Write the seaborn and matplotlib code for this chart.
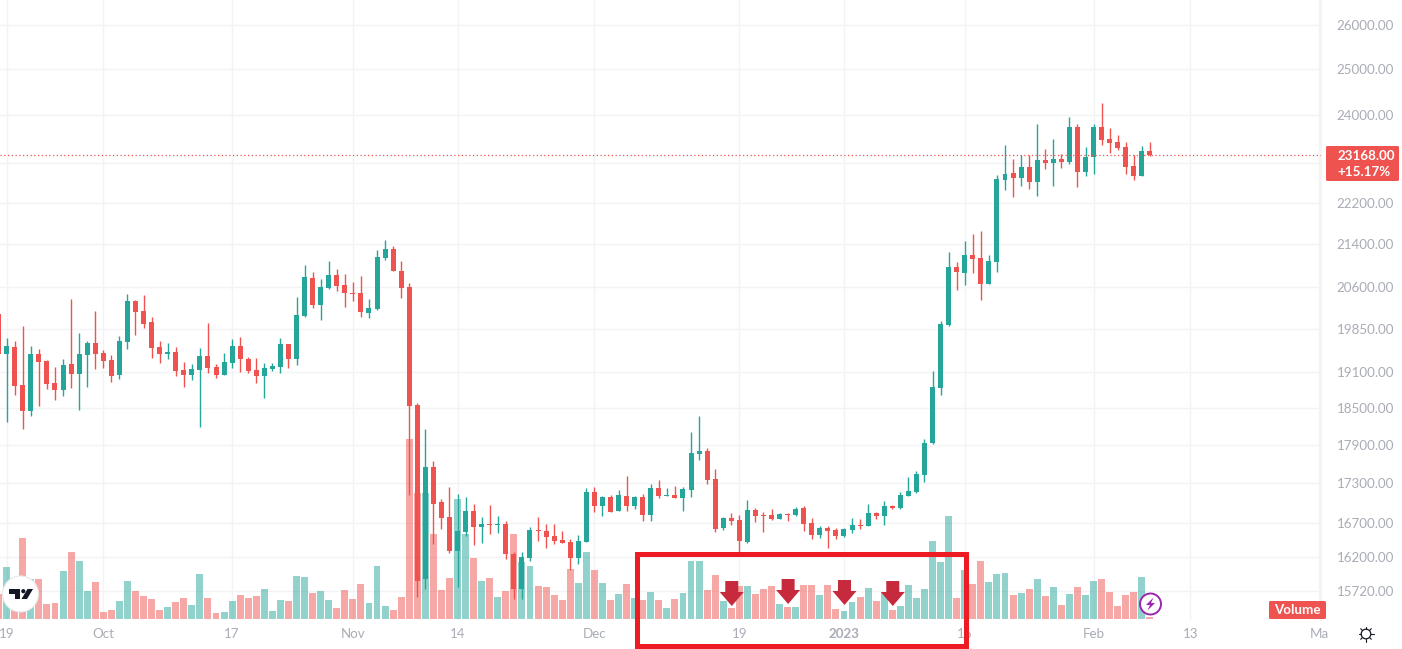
"""
BTCUSD daily candles with volume, TradingView style chart.
"""

import numpy as np
import pandas as pd
import matplotlib
matplotlib.use("Agg")
import matplotlib.pyplot as plt
from matplotlib.patches import Circle, Polygon, Rectangle, FancyBboxPatch
from matplotlib.ticker import NullLocator
import seaborn as sns

# Day numbers count from 19 Sep 2022, so -1 is the candle cut by the left edge
opens = [20111,
    19407, 19528, 18880, 18449, 19407, 19287, 18913, 18796, 19236, 19065, 19390, 19598, 19425, 19304, 19048,
    19615, 20344, 20164, 19967, 19528, 19407, 19442, 19133, 19048, 19133, 19373, 19184, 19048, 19253, 19546,
    19321, 19133, 19032, 19150, 19184, 19581, 19321, 20074, 20764, 20271, 20580, 20819, 20635, 20489, 20489,
    20128, 20199, 21136, 21306, 20893, 20598, 18547, 15889, 17553, 17015, 16790, 16290, 16567, 16879, 16641,
    16686, 16671, 16686, 16246, 15749, 16189, 16597, 16582, 16508, 16450, 16421, 16189, 16421, 17167, 16955,
    17091, 16879, 17106, 16955, 17091, 16820, 17228, 17106, 17121, 17076, 17197, 17757, 17804, 17366, 16626,
    16775, 16745, 16421, 16894, 16820, 16820, 16760, 16834, 16820, 16925, 16700, 16523, 16626, 16597, 16508,
    16597, 16671, 16656, 16849, 16805, 16955, 16925, 17106, 17167, 17428, 17931, 18830, 19914, 20968, 20856,
    21193, 21136, 20653, 21061, 22654, 22795, 22694, 22917, 22613, 23060, 22999, 23080, 23019, 23746, 22815,
    23122, 23746, 23494, 23432, 23328, 22937, 22734, 23245]
highs = [20300,
    19680, 19633, 19896, 19546, 19494, 19304, 19184, 19321, 20380, 19773, 19633, 20164, 19476, 19390, 19720,
    20471, 20362, 20452, 20056, 19633, 19598, 19528, 19270, 19236, 19511, 19950, 19236, 19425, 19668, 19703,
    19356, 19338, 19253, 19253, 19685, 19581, 20416, 21005, 20875, 20745, 21080, 20931, 20838, 20690, 20801,
    20380, 21287, 21477, 21363, 21080, 20672, 18575, 18156, 17647, 17060, 17243, 17136, 17091, 16985, 16790,
    16970, 16805, 16730, 16275, 16275, 16641, 16790, 16686, 16686, 16582, 16465, 16523, 17228, 17243, 17106,
    17121, 17197, 17413, 17106, 17136, 17289, 17351, 17228, 17259, 17243, 18107, 18367, 17852, 17522, 16790,
    16849, 16820, 17045, 16925, 16864, 16909, 16849, 16849, 16940, 16955, 16775, 16656, 16656, 16626, 16626,
    16775, 16760, 16985, 16864, 17030, 16970, 17167, 17397, 17490, 17995, 19116, 19985, 21249, 21061, 21458,
    21592, 21650, 21193, 22755, 23369, 23080, 23163, 23163, 23810, 23287, 23494, 23183, 23958, 23810, 23328,
    23810, 24258, 23725, 23578, 23432, 23163, 23349, 23432]
lows = [19300,
    18274, 18713, 18156, 18372, 18531, 18813, 18630, 18696, 18830, 18465, 18846, 19150, 19167, 18930, 18981,
    19494, 19738, 19861, 19338, 19253, 19321, 19032, 18846, 18964, 18188, 19082, 18998, 19048, 19167, 19099,
    19082, 18913, 18663, 19116, 19082, 19167, 19219, 20056, 20217, 20003, 20562, 20525, 20235, 20344, 20056,
    20038, 20181, 21099, 20893, 20398, 17121, 15642, 15749, 16392, 16612, 16261, 15777, 16508, 16377, 16406,
    16538, 16553, 16174, 15609, 15609, 16146, 16435, 16333, 16392, 16406, 16017, 16103, 16421, 16864, 16805,
    16864, 16879, 16879, 16909, 16730, 16730, 17076, 17106, 17076, 16879, 17091, 17662, 17289, 16567, 16597,
    16671, 16275, 16406, 16715, 16567, 16745, 16760, 16730, 16805, 16582, 16465, 16479, 16333, 16465, 16494,
    16553, 16612, 16656, 16760, 16671, 16909, 16909, 17106, 17152, 17320, 17915, 18713, 19896, 20543, 20635,
    20856, 20362, 20653, 20875, 22453, 22314, 22533, 22473, 22334, 22876, 22533, 22897, 22978, 22513, 22734,
    22775, 23369, 23204, 23266, 22775, 22654, 22734, 23142]
closes = [19410,
    19546, 18869, 18449, 19407, 19270, 18897, 18796, 19219, 19065, 19407, 19598, 19407, 19287, 19032, 19633,
    20344, 20146, 19932, 19511, 19407, 19442, 19116, 19048, 19150, 19373, 19167, 19048, 19270, 19546, 19321,
    19116, 19032, 19167, 19201, 19581, 19321, 20092, 20782, 20271, 20598, 20819, 20617, 20489, 20477, 20146,
    20217, 21155, 21306, 20893, 20580, 18531, 15861, 17553, 16985, 16775, 16290, 16582, 16879, 16641, 16686,
    16671, 16686, 16246, 15749, 16203, 16597, 16582, 16494, 16435, 16406, 16189, 16435, 17167, 16955, 17091,
    16864, 17121, 16955, 17091, 16820, 17228, 17106, 17121, 17076, 17213, 17772, 17804, 17351, 16612, 16775,
    16730, 16435, 16894, 16805, 16805, 16760, 16834, 16820, 16909, 16686, 16523, 16626, 16582, 16508, 16612,
    16671, 16656, 16849, 16805, 16955, 16925, 17121, 17182, 17444, 17931, 18846, 19932, 20968, 20875, 21193,
    21117, 20653, 21080, 22674, 22775, 22694, 22917, 22613, 23060, 22999, 23080, 23019, 23746, 22815, 23122,
    23746, 23474, 23411, 23307, 22917, 22734, 23245, 23168]
volumes = [25,
    52, 30, 81, 40, 40, 15, 16, 48, 67, 58, 28, 37, 7, 9, 18, 38, 28, 23, 20, 9, 12, 17, 21, 14, 45,
    21, 6, 7, 18, 24, 21, 23, 30, 8, 19, 18, 43, 42, 26, 28, 19, 11, 29, 20, 35, 16, 53, 13, 9, 22,
    180, 126, 126, 85, 29, 41, 120, 85, 61, 38, 41, 22, 28, 85, 57, 53, 33, 32, 24, 19, 50, 36, 67, 49, 36,
    19, 25, 35, 21, 19, 27, 19, 11, 20, 26, 58, 58, 29, 44, 18, 11, 33, 33, 25, 30, 33, 15, 12, 12, 34,
    34, 24, 34, 10, 8, 17, 22, 31, 18, 26, 9, 13, 34, 21, 30, 78, 57, 103, 21, 49, 35, 58, 37, 45, 46,
    24, 26, 30, 40, 23, 32, 14, 25, 32, 24, 38, 40, 27, 13, 24, 27, 42, 2]

price_ticks = [26000, 25000, 24000, 23000, 22200, 21400, 20600, 19850, 19100, 18500, 17900, 17300, 16700, 16200, 15720]
date_ticks = [0, 12, 28, 43, 56, 73, 91, 104, 119, 135, 147, 163]
date_labels = ["19", "Oct", "17", "Nov", "14", "Dec", "19", "2023", "16", "Feb", "13", "Ma"]
arrow_days = [90, 97, 104, 110]
change_label = "+15.17%"

UP = "#26a69a"
DOWN = "#ef5350"
GRID = "#f1f3f6"
TEXT = "#a9acb6"
W, H = 1402, 649
PANE_R, PANE_B = 1321, 620

sns.set_theme(style="white")
plt.rcParams["font.family"] = ["Lato", "DejaVu Sans"]

df = pd.DataFrame({"day": np.arange(-1, len(opens) - 1), "open": opens, "high": highs,
                   "low": lows, "close": closes, "volume": volumes})
df["side"] = np.where(df["close"] >= df["open"], "up", "down")
df["color"] = df["side"].map({"up": UP, "down": DOWN})

fig = plt.figure(figsize=(W / 100, H / 100), dpi=100, facecolor="white")
rect = [0, 1 - PANE_B / H, PANE_R / W, PANE_B / H]
xlim = (-0.83, 163.25)

# Price scale and grid at the bottom
ax = fig.add_axes(rect)
ax.set_yscale("log")
ax.set_xlim(xlim)
ax.set_ylim(15320, 26584)
ax.set_yticks(price_ticks)
ax.set_yticklabels([f"{p:.2f}" if p != 23000 else "" for p in price_ticks])
ax.yaxis.set_minor_locator(NullLocator())
ax.yaxis.tick_right()
ax.set_xticks(date_ticks)
ax.set_xticklabels(date_labels)
ax.get_xticklabels()[7].set_fontweight("bold")
ax.tick_params(axis="y", length=3.6, width=0.8, color=GRID, labelcolor=TEXT, labelsize=9.6, pad=7.5)
ax.tick_params(axis="x", length=0, labelcolor=TEXT, labelsize=9.6, pad=6)
ax.grid(True, color=GRID, linewidth=1)
ax.set_axisbelow(True)
sns.despine(ax=ax, left=True, bottom=True, top=True, right=False)
ax.spines["right"].set_color(GRID)

# Volume bars, one axis unit is one pixel of bar height
ax_vol = fig.add_axes(rect, facecolor="none")
sns.barplot(data=df, x="day", y="volume", hue="side", hue_order=["up", "down"],
            palette={"up": UP, "down": DOWN}, native_scale=True, dodge=False,
            width=0.86, alpha=0.5, linewidth=0, saturation=1, legend=False, ax=ax_vol)
ax_vol.set_xlim(xlim)
ax_vol.set_ylim(-1, 619)
ax_vol.axis("off")

# Candles over the volume
ax_c = fig.add_axes(rect, facecolor="none", sharex=ax, sharey=ax)
ax_c.vlines(df["day"], df["low"], df["high"], colors=df["color"], linewidth=1.0)
ax_c.bar(df["day"], (df["close"] - df["open"]).abs(), bottom=df[["open", "close"]].min(axis=1),
         width=0.62, color=df["color"], linewidth=0)
ax_c.axhline(closes[-1], color=DOWN, linestyle=(0, (1, 2)), linewidth=0.9)
ax_c.axis("off")
ax_c.set_xlim(xlim)
ax_c.set_ylim(15320, 26584)

# Overlay in pixel coordinates for tags, logos and the hand drawn markup
ov = fig.add_axes([0, 0, 1, 1], facecolor="none")
ov.set_xlim(0, W)
ov.set_ylim(H, 0)
ov.axis("off")

ov.add_patch(FancyBboxPatch((1326, 146), 73, 35, boxstyle="round,pad=0,rounding_size=1.5", fc=DOWN, ec="none"))
ov.text(1337.5, 155.5, f"{closes[-1]:.2f}", color="white", fontsize=9.6, va="center", ha="left", fontweight="bold")
ov.text(1337.5, 172, change_label, color="white", fontsize=9.6, va="center", ha="left", fontweight="bold")

ov.add_patch(FancyBboxPatch((1269, 601), 57, 18, boxstyle="round,pad=0,rounding_size=1.5", fc=DOWN, ec="none"))
ov.text(1297, 610, "Volume", color="white", fontsize=9.6, va="center", ha="center", fontweight="bold")

# TradingView logo
ov.add_patch(Circle((20.5, 594), 18, fc="white", ec="#e6e8ec", lw=0.8))
ov.add_patch(Polygon([(9, 589), (20, 589), (20, 599), (15, 599), (15, 593.5), (9, 593.5)], fc="#131722", ec="none"))
ov.add_patch(Circle((23.3, 591.2), 2.1, fc="#131722", ec="none"))
ov.add_patch(Polygon([(27.5, 589), (33, 589), (27, 599), (21.5, 599)], fc="#131722", ec="none"))

# Lightning badge
ov.add_patch(Circle((1150.5, 604), 10.5, fc="white", ec="#9c27b0", lw=1.4))
ov.add_patch(Polygon([(1153.5, 597.5), (1146, 605), (1150, 605), (1147.5, 610.5), (1155, 603), (1151, 603)],
                     fc="#9c27b0", ec="none"))

# Settings sun icon
ov.add_patch(Circle((1366, 634), 4.8, fc="none", ec="#131722", lw=0.9))
for a in np.arange(0, 2 * np.pi, np.pi / 4):
    ov.plot([1366 + 5 * np.cos(a), 1366 + 7.5 * np.cos(a)], [634 + 5 * np.sin(a), 634 + 7.5 * np.sin(a)],
            color="#131722", lw=0.8)

# Red markup frame and arrows
ov.add_patch(Rectangle((636.5, 553.5), 329, 92, fc="none", ec="#ed1c24", lw=3.6))
for day, top in zip(arrow_days, [581, 579, 580, 581]):
    cx = (day - xlim[0]) / (xlim[1] - xlim[0]) * PANE_R + 0.5
    ov.add_patch(Polygon([(cx - 6.5, top), (cx + 6.5, top), (cx + 6.5, top + 11), (cx + 12, top + 11),
                          (cx, top + 25), (cx - 12, top + 11), (cx - 6.5, top + 11)], fc="#c62a3c", ec="none"))

fig.savefig("out.png", dpi=100)
